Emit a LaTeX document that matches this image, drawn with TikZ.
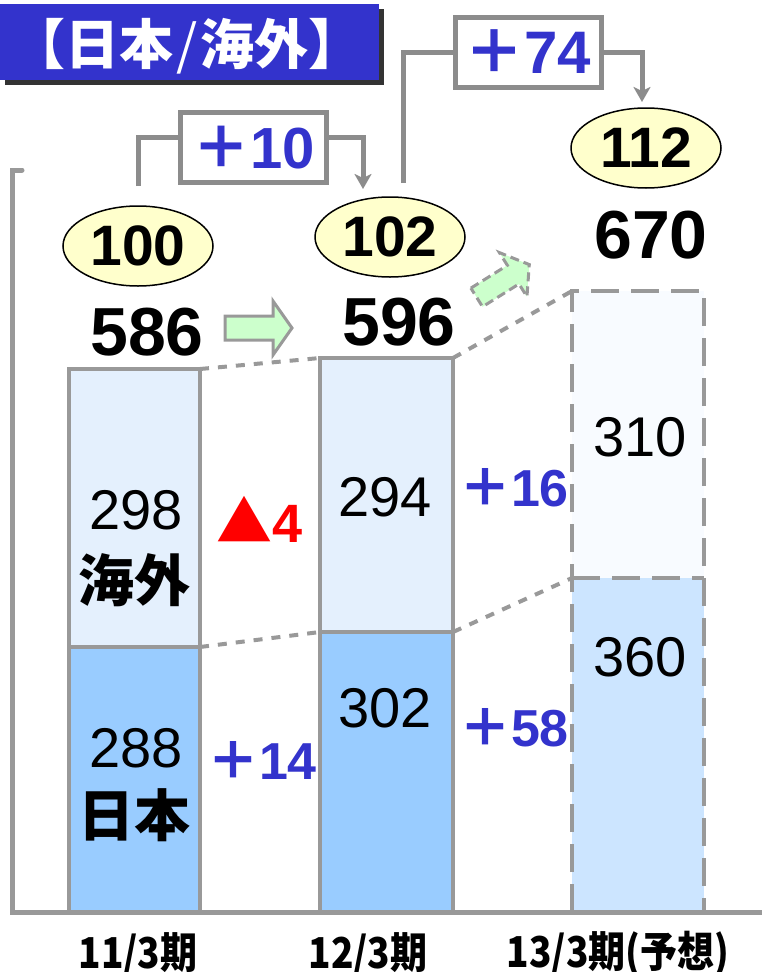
\documentclass[tikz,border=0pt]{standalone}
\usepackage{fontspec}
\setmainfont{Liberation Sans}
\newfontfamily\cjk{Noto Sans CJK JP}
\usetikzlibrary{arrows.meta,shapes.geometric}
\definecolor{tblue}{HTML}{3333CC}
\definecolor{shadowc}{HTML}{333333}
\definecolor{lgray}{HTML}{999999}
\definecolor{agray}{HTML}{8C8C8C}
\definecolor{ellfill}{HTML}{FFFFCC}
\definecolor{garrow}{HTML}{CCFFCC}
\definecolor{jpblue}{HTML}{99CCFF}
\definecolor{ovblue}{HTML}{E4F0FD}
\definecolor{jpfc}{HTML}{CCE5FF}
\definecolor{ovfc}{HTML}{F8FBFF}
\newcommand\fsz[1]{\fontsize{#1}{#1}\selectfont}
\begin{document}
\begin{tikzpicture}[x=1pt,y=-1pt,
  bar/.style={draw=lgray, line width=4pt, inner sep=0pt, outer sep=0pt, anchor=north west},
  fcbar/.style={inner sep=0pt, outer sep=0pt, anchor=north west},
  dashbar/.style={draw=lgray, line width=4pt, dash pattern=on 28pt off 12pt},
  dotline/.style={draw=lgray, line width=4pt, dash pattern=on 9pt off 9pt},
  axisline/.style={draw=lgray, line width=5pt, line cap=round},
  bline/.style={draw=agray, line width=5pt},
  bbox/.style={draw=agray, line width=5pt, fill=white, minimum width=146pt, minimum height=70pt, inner sep=0pt},
  ell/.style={ellipse, draw=black, line width=1.5pt, fill=ellfill, minimum width=150pt, minimum height=80pt, inner sep=0pt},
  tot/.style={inner sep=0pt, font=\fsz{68}\bfseries},
  ellnum/.style={inner sep=0pt, font=\fsz{57}\bfseries},
  val/.style={inner sep=0pt, font=\fsz{56}},
  lab/.style={inner sep=0pt, font=\cjk\fsz{56}\bfseries},
  delta/.style={inner sep=0pt, text=tblue, font=\fsz{52}\bfseries},
  xlab/.style={inner sep=0pt, font=\cjk\fsz{37}\bfseries},
  garrowst/.style={fill=garrow, draw=lgray, line width=3pt, line join=miter},
  tip/.style={-{Stealth[length=15pt,width=17pt,inset=4pt]}}
]
\useasboundingbox (0,0) rectangle (762,972);

% title
\node[fill=shadowc, minimum width=379pt, minimum height=76pt, inner sep=0pt] (tshadow) at (194,47) {};
\node[fill=tblue, minimum width=379pt, minimum height=76pt, inner sep=0pt] (title) at (189.5,42) {};
\node[inner sep=0pt, text=white, font=\cjk\fsz{54}\bfseries] (titletext) at (187,46) {【日本{\mdseries\kern3pt/\kern3pt}海外】};

% bars
\node[bar, fill=ovblue, minimum width=131pt, minimum height=278pt] (ov1) at (69,369) {};
\node[bar, fill=jpblue, minimum width=131pt, minimum height=265pt] (jp1) at (69,647) {};
\node[bar, fill=ovblue, minimum width=133pt, minimum height=274pt] (ov2) at (320,358) {};
\node[bar, fill=jpblue, minimum width=133pt, minimum height=280pt] (jp2) at (320,632) {};
\node[fcbar, fill=ovfc, minimum width=132pt, minimum height=287pt] (ov3) at (572,291) {};
\node[fcbar, fill=jpfc, minimum width=132pt, minimum height=334pt] (jp3) at (572,578) {};
\draw[dashbar] (jp3.south west) -- (ov3.north west) -- (ov3.north east) -- (jp3.south east);
\draw[dashbar] (jp3.north west) -- (jp3.north east);

% dotted connectors
\draw[dotline] (ov1.north east) -- (ov2.north west);
\draw[dotline] (jp1.north east) -- (jp2.north west);
\draw[dotline] (ov2.north east) -- (ov3.north west);
\draw[dotline] (jp2.north east) -- (jp3.north west);

% axis
\coordinate (axtick) at (22,170);
\coordinate (axtop) at (12,170);
\coordinate (axorig) at (12,912);
\coordinate (axend) at (765,912);
\draw[axisline] (axtick) -- (axtop) -- (axorig) -- (axend);

% bar values
\node[val] (v298) at (136,510) {298};
\node[lab] (l海外) at (134,580) {海外};
\node[val] (v288) at (136,748) {288};
\node[lab] (l日本) at (134,815) {日本};
\node[val] (v294) at (385,497) {294};
\node[val] (v302) at (385,708) {302};
\node[val] (v310) at (640,437) {310};
\node[val] (v360) at (640,657) {360};

% deltas
\node[inner sep=0pt, text=red, font=\fsz{54}\bfseries] (dm4) at (260,519) {{\cjk\fsz{56}▲}4};
\node[delta] (d14) at (262,760) {{\cjk ＋}14};
\node[delta] (d16) at (514,488) {{\cjk ＋}16};
\node[delta] (d58) at (514,728) {{\cjk ＋}58};

% ellipses and totals
\node[ell] (e100) at (138,246) {};
\node[ellnum] (n100) at (e100) {100};
\node[ell] (e102) at (390,237) {};
\node[ellnum] (n102) at (e102) {102};
\node[ell] (e112) at (646,148) {};
\node[ellnum] (n112) at (e112) {112};
\node[tot] (t586) at (147,332) {586};
\node[tot] (t596) at (399,322) {596};
\node[tot] (t670) at (651,235) {670};

% bracket +10
\node[bbox] (box10) at (253.5,147.5) {};
\node[inner sep=0pt, text=tblue, font=\fsz{58}\bfseries] (b10) at (box10) {{\cjk ＋}10};
\coordinate (s10) at (138,186);
\coordinate (t10) at (363,189);
\draw[bline] (s10) |- ([yshift=10pt]box10.west);
\draw[bline, tip] ([yshift=10pt]box10.east) -| (t10);

% bracket +74
\node[bbox] (box74) at (528,52) {};
\node[inner sep=0pt, text=tblue, font=\fsz{60}\bfseries] (b74) at (box74) {{\cjk ＋}74};
\coordinate (s74) at (403,183);
\coordinate (t74) at (642,102);
\draw[bline] (s74) |- (box74.west);
\draw[bline, tip] (box74.east) -| (t74);

% green arrows
\coordinate (ga1) at (258,328);
\draw[garrowst, shift={(ga1)}] (-33,-12) -- (15,-12) -- (15,-27) -- (34,0) -- (15,27) -- (15,12) -- (-33,12) -- cycle;
\coordinate (ga2) at (503,281);
\draw[garrowst, dash pattern=on 9pt off 5pt, shift={(ga2)}, rotate=32] (-31,-11) -- (12,-11) -- (12,-26) -- (31,0) -- (12,26) -- (12,11) -- (-31,11) -- cycle;

% x labels
\node[xlab] (x1) at (138,954) {\scalebox{1}[1.15]{11/3期}};
\node[xlab] (x2) at (368,954) {\scalebox{1}[1.15]{12/3期}};
\node[xlab] (x3) at (618,954) {\scalebox{1}[1.15]{13/3期(予想)}};
\end{tikzpicture}
\end{document}
